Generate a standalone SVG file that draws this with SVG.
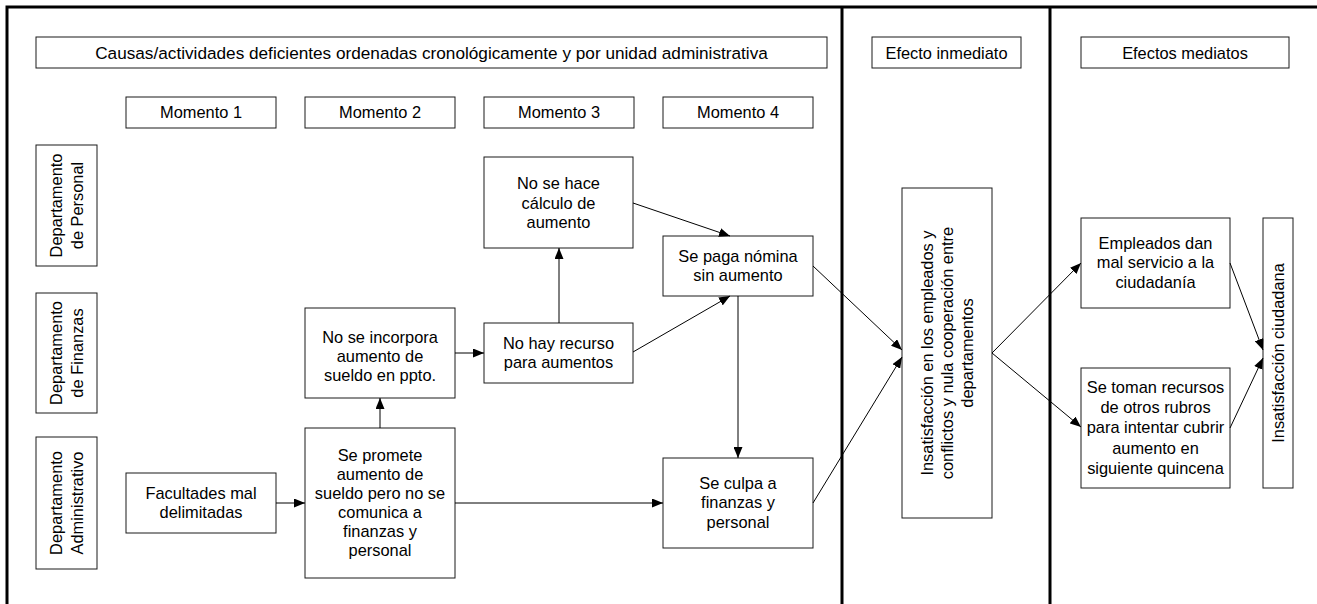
<svg xmlns="http://www.w3.org/2000/svg" width="1317" height="604" viewBox="0 0 1317 604">
<style>
.b{fill:#fff;stroke:#1a1a1a;stroke-width:1}
.t{font-family:"Liberation Sans",Arial,sans-serif;font-size:16.4px;fill:#000;text-anchor:middle}
.f{stroke:#000;stroke-width:3;fill:none}
.c{stroke:#000;stroke-width:1;fill:none;marker-end:url(#ah)}
</style>
<defs>
<marker id="ah" markerUnits="userSpaceOnUse" markerWidth="11" markerHeight="9" refX="11" refY="4.5" orient="auto" viewBox="0 0 11 9">
<path d="M0,0 L11,4.5 L0,9 z" fill="#000"/>
</marker>
</defs>
<rect width="1317" height="604" fill="#fff"/>
<g id="frame">
<path class="f" d="M7,604 V7 H1317"/>
<path class="f" d="M842,7 V604"/>
<path class="f" d="M1050,7 V604"/>
</g>
<g id="hdr-causas"><rect class="b" x="36" y="37" width="791" height="31"/><text class="t" x="431.5" y="58.7" style="font-size:17.2px">Causas/actividades deficientes ordenadas cronológicamente y por unidad administrativa</text></g>
<g id="hdr-inmediato"><rect class="b" x="872" y="37" width="149" height="31"/><text class="t" x="946.5" y="58.7">Efecto inmediato</text></g>
<g id="hdr-mediatos"><rect class="b" x="1081" y="37" width="208" height="31"/><text class="t" x="1185" y="58.7">Efectos mediatos</text></g>
<g id="m1"><rect class="b" x="126" y="97" width="150" height="31"/><text class="t" x="201" y="118.2">Momento 1</text></g>
<g id="m2"><rect class="b" x="305" y="97" width="150" height="31"/><text class="t" x="380" y="118.2">Momento 2</text></g>
<g id="m3"><rect class="b" x="484" y="97" width="150" height="31"/><text class="t" x="559" y="118.2">Momento 3</text></g>
<g id="m4"><rect class="b" x="663" y="97" width="150" height="31"/><text class="t" x="738" y="118.2">Momento 4</text></g>
<g id="d-personal"><rect class="b" x="36" y="145" width="61" height="121"/><text class="t" transform="translate(66.5,205.5) rotate(-90)"><tspan x="0" y="-4.5">Departamento</tspan><tspan x="0" y="16">de Personal</tspan></text></g>
<g id="d-finanzas"><rect class="b" x="36" y="293" width="61" height="120"/><text class="t" transform="translate(66.5,353) rotate(-90)"><tspan x="0" y="-4.5">Departamento</tspan><tspan x="0" y="16">de Finanzas</tspan></text></g>
<g id="d-admin"><rect class="b" x="36" y="437" width="61" height="132"/><text class="t" transform="translate(66.5,503) rotate(-90)"><tspan x="0" y="-4.5">Departamento</tspan><tspan x="0" y="16">Administrativo</tspan></text></g>
<g id="facultades"><rect class="b" x="126" y="473" width="150" height="60"/><text class="t"><tspan x="201" y="499">Facultades mal</tspan><tspan x="201" y="518">delimitadas</tspan></text></g>
<g id="promete"><rect class="b" x="305" y="428" width="150" height="150"/><text class="t"><tspan x="380" y="461">Se promete</tspan><tspan x="380" y="480">aumento de</tspan><tspan x="380" y="499">sueldo pero no se</tspan><tspan x="380" y="518">comunica a</tspan><tspan x="380" y="537">finanzas y</tspan><tspan x="380" y="556">personal</tspan></text></g>
<g id="incorpora"><rect class="b" x="305" y="308" width="150" height="90"/><text class="t"><tspan x="380" y="342.5">No se incorpora</tspan><tspan x="380" y="361.5">aumento de</tspan><tspan x="380" y="380.5">sueldo en ppto.</tspan></text></g>
<g id="norecurso"><rect class="b" x="484" y="323" width="149" height="60"/><text class="t"><tspan x="558.5" y="349">No hay recurso</tspan><tspan x="558.5" y="368">para aumentos</tspan></text></g>
<g id="calculo"><rect class="b" x="484" y="157" width="149" height="91"/><text class="t"><tspan x="558.5" y="189">No se hace</tspan><tspan x="558.5" y="208.5">cálculo de</tspan><tspan x="558.5" y="228">aumento</tspan></text></g>
<g id="paga"><rect class="b" x="663" y="236" width="150" height="60"/><text class="t"><tspan x="738" y="262">Se paga nómina</tspan><tspan x="738" y="281">sin aumento</tspan></text></g>
<g id="culpa"><rect class="b" x="663" y="458" width="150" height="90"/><text class="t"><tspan x="738" y="488.5">Se culpa a</tspan><tspan x="738" y="508">finanzas y</tspan><tspan x="738" y="527.5">personal</tspan></text></g>
<g id="insat"><rect class="b" x="902" y="188" width="90" height="330"/><text class="t" transform="translate(947,353) rotate(-90)"><tspan x="0" y="-14">Insatisfacción en los empleados y</tspan><tspan x="0" y="6">conflictos y nula cooperación entre</tspan><tspan x="0" y="26">departamentos</tspan></text></g>
<g id="servicio"><rect class="b" x="1081" y="218" width="149" height="90"/><text class="t"><tspan x="1155.5" y="248.5">Empleados dan</tspan><tspan x="1155.5" y="268">mal servicio a la</tspan><tspan x="1155.5" y="288">ciudadanía</tspan></text></g>
<g id="recursos"><rect class="b" x="1081" y="368" width="149" height="120"/><text class="t"><tspan x="1155.5" y="393">Se toman recursos</tspan><tspan x="1155.5" y="413">de otros rubros</tspan><tspan x="1155.5" y="433">para intentar cubrir</tspan><tspan x="1155.5" y="453.5">aumento en</tspan><tspan x="1155.5" y="474">siguiente quincena</tspan></text></g>
<g id="ciudadana"><rect class="b" x="1263" y="218" width="30" height="270"/><text class="t" transform="translate(1278,353) rotate(-90)" y="5.7">Insatisfacción ciudadana</text></g>
<g id="connectors">
<path class="c" d="M276,503 H305"/>
<path class="c" d="M380,428 V398"/>
<path class="c" d="M455,353 H484"/>
<path class="c" d="M559,323 V248"/>
<path class="c" d="M633,203 L730,236"/>
<path class="c" d="M633,352 L730,296"/>
<path class="c" d="M738,296 V458"/>
<path class="c" d="M455,503 H663"/>
<path class="c" d="M813,266 L902,350"/>
<path class="c" d="M813,503 L902,357"/>
<path class="c" d="M992,353 L1081,263"/>
<path class="c" d="M992,353 L1081,427"/>
<path class="c" d="M1230,263 L1263,350"/>
<path class="c" d="M1230,428 L1263,358"/>
</g>
</svg>
